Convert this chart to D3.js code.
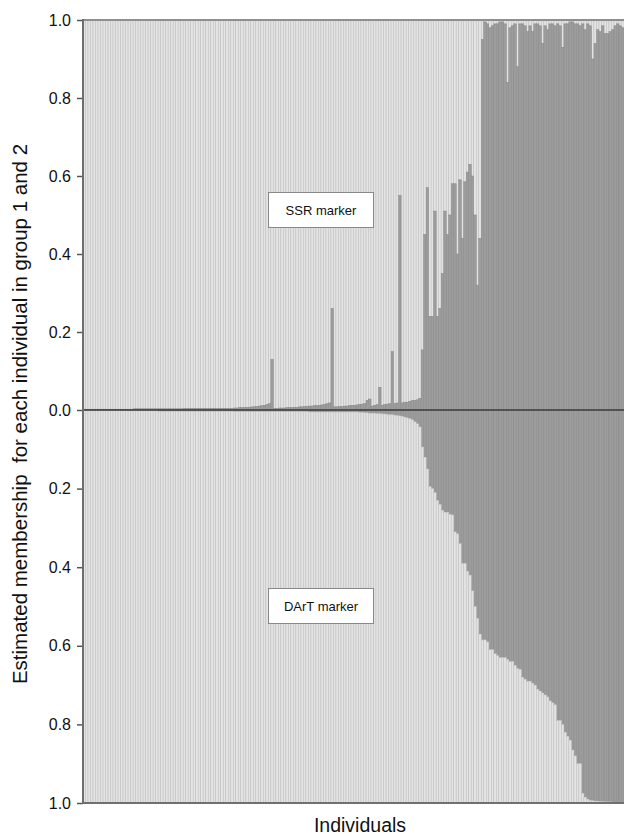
<!DOCTYPE html>
<html>
<head>
<meta charset="utf-8">
<script src="https://cdn.jsdelivr.net/npm/d3@7"></script>
<style>
  body { margin: 0; background: #fff; }
  text { font-family: "Liberation Sans", Arial, sans-serif; }
</style>
</head>
<body>
<div id="chart"></div>
<script>

// membership in group 2 for each individual (SSR marker, drawn upward)
var ssrValues = [
	0.002,0.002,0.002,0.002,0.002,0.002,0.002,0.002,0.002,0.002,
	0.002,0.002,0.002,0.002,0.002,0.002,0.002,0.002,0.002,0.002,
	0.003,0.003,0.003,0.003,0.003,0.003,0.003,0.003,0.003,0.003,
	0.003,0.003,0.003,0.003,0.003,0.003,0.003,0.003,0.003,0.003,
	0.004,0.004,0.004,0.004,0.004,0.004,0.004,0.004,0.004,0.004,
	0.004,0.004,0.004,0.004,0.004,0.004,0.004,0.004,0.004,0.004,
	0.005,0.005,0.006,0.006,0.006,0.007,0.007,0.008,0.008,0.009,
	0.010,0.011,0.012,0.014,0.016,0.130,0.004,0.004,0.005,0.005,
	0.005,0.006,0.006,0.006,0.007,0.007,0.008,0.008,0.009,0.009,
	0.010,0.010,0.011,0.011,0.012,0.013,0.014,0.016,0.018,0.260,
	0.008,0.008,0.009,0.009,0.010,0.010,0.011,0.012,0.012,0.013,
	0.014,0.015,0.016,0.025,0.028,0.010,0.012,0.014,0.058,0.012,
	0.014,0.015,0.016,0.150,0.016,0.018,0.550,0.018,0.020,0.020,
	0.022,0.024,0.025,0.026,0.030,0.154,0.450,0.570,0.240,0.240,
	0.510,0.240,0.260,0.350,0.510,0.450,0.500,0.580,0.580,0.400,
	0.590,0.440,0.585,0.610,0.630,0.600,0.500,0.320,0.440,0.950,
	0.995,0.990,0.980,0.985,0.990,0.990,0.995,0.995,0.990,0.840,
	0.980,0.985,0.990,0.880,0.990,0.990,0.985,0.970,0.985,0.970,
	0.990,0.990,0.985,0.940,0.985,0.975,0.990,0.990,0.985,0.990,
	0.985,0.930,0.990,0.990,0.995,0.995,0.990,0.990,0.985,0.990,
	0.975,0.990,0.985,0.900,0.940,0.975,0.970,0.985,0.965,0.965,
	0.970,0.975,0.985,0.990,0.985,0.980
];

// membership in group 2 for each individual (DArT marker, drawn downward)
var dartValues = [
	0.002,0.002,0.002,0.002,0.002,0.002,0.002,0.002,0.002,0.002,
	0.002,0.002,0.002,0.002,0.002,0.002,0.002,0.002,0.002,0.002,
	0.002,0.002,0.002,0.002,0.002,0.002,0.002,0.002,0.002,0.002,
	0.003,0.003,0.003,0.003,0.003,0.003,0.003,0.003,0.003,0.003,
	0.003,0.003,0.003,0.003,0.003,0.003,0.003,0.003,0.003,0.003,
	0.003,0.003,0.003,0.003,0.003,0.003,0.003,0.003,0.003,0.003,
	0.004,0.004,0.004,0.004,0.004,0.004,0.004,0.004,0.004,0.004,
	0.004,0.004,0.004,0.004,0.004,0.004,0.004,0.004,0.004,0.004,
	0.004,0.004,0.004,0.004,0.004,0.004,0.004,0.004,0.004,0.004,
	0.005,0.005,0.005,0.005,0.005,0.005,0.005,0.005,0.005,0.005,
	0.005,0.005,0.005,0.005,0.005,0.005,0.005,0.005,0.005,0.005,
	0.006,0.006,0.007,0.007,0.008,0.008,0.008,0.009,0.009,0.010,
	0.010,0.011,0.012,0.012,0.013,0.014,0.015,0.016,0.018,0.020,
	0.022,0.025,0.030,0.035,0.043,0.094,0.120,0.150,0.195,0.200,
	0.210,0.230,0.240,0.255,0.260,0.260,0.265,0.267,0.310,0.315,
	0.340,0.390,0.390,0.410,0.420,0.460,0.500,0.530,0.570,0.585,
	0.585,0.590,0.610,0.610,0.620,0.625,0.630,0.630,0.630,0.635,
	0.640,0.640,0.650,0.657,0.660,0.680,0.685,0.690,0.690,0.695,
	0.700,0.710,0.715,0.720,0.725,0.730,0.740,0.745,0.750,0.790,
	0.790,0.800,0.820,0.830,0.840,0.865,0.880,0.900,0.900,0.975,
	0.985,0.990,0.993,0.994,0.995,0.995,0.996,0.996,0.997,0.997,
	0.997,0.998,0.998,0.998,0.998,0.998
];

var individuals = ssrValues.map(function(d, i) { return i; });
var tickValues = [0, 0.2, 0.4, 0.6, 0.8, 1.0];

var chartWidth = 624, chartHeight = 837;
var plotLeft = 83, plotRight = 624, plotTop = 20, plotMid = 410, plotBottom = 803;

var lightFill = "#e3e3e3", lightLine = "#bcbcbc";
var darkFill = "#9d9d9d", darkLine = "#878787";

var svg = d3.select("#chart")
			.append("svg")
			.attr("width", chartWidth)
			.attr("height", chartHeight);

var x = d3.scaleBand()
			.domain(individuals)
			.range([plotLeft, plotRight])
			.padding(0);

var yTop = d3.scaleLinear().domain([0, 1]).range([plotMid, plotTop]);
var yBot = d3.scaleLinear().domain([0, 1]).range([plotMid, plotBottom]);

// upper panel: SSR
var upper = svg.append("g").attr("class", "ssr");

upper.selectAll("rect.g1")
	.data(ssrValues)
	.enter().append("rect")
	.attr("class", "g1")
	.attr("x", function(d, i) { return x(i); })
	.attr("width", x.bandwidth())
	.attr("y", yTop(1))
	.attr("height", function(d) { return yTop(d) - yTop(1); })
	.style("fill", lightFill)
	.style("stroke", lightLine)
	.style("stroke-width", 0.5);

upper.selectAll("rect.g2")
	.data(ssrValues)
	.enter().append("rect")
	.attr("class", "g2")
	.attr("x", function(d, i) { return x(i); })
	.attr("width", x.bandwidth())
	.attr("y", function(d) { return yTop(d); })
	.attr("height", function(d) { return yTop(0) - yTop(d); })
	.style("fill", darkFill)
	.style("stroke", darkLine)
	.style("stroke-width", 0.5);

// lower panel: DArT
var lower = svg.append("g").attr("class", "dart");

lower.selectAll("rect.g2")
	.data(dartValues)
	.enter().append("rect")
	.attr("class", "g2")
	.attr("x", function(d, i) { return x(i); })
	.attr("width", x.bandwidth())
	.attr("y", yBot(0))
	.attr("height", function(d) { return yBot(d) - yBot(0); })
	.style("fill", darkFill)
	.style("stroke", darkLine)
	.style("stroke-width", 0.5);

lower.selectAll("rect.g1")
	.data(dartValues)
	.enter().append("rect")
	.attr("class", "g1")
	.attr("x", function(d, i) { return x(i); })
	.attr("width", x.bandwidth())
	.attr("y", function(d) { return yBot(d); })
	.attr("height", function(d) { return yBot(1) - yBot(d); })
	.style("fill", lightFill)
	.style("stroke", lightLine)
	.style("stroke-width", 0.5);

// frame lines
svg.append("line")
	.attr("x1", plotLeft).attr("x2", plotRight)
	.attr("y1", plotTop).attr("y2", plotTop)
	.style("stroke", "#8f8f8f").style("stroke-width", 2);

svg.append("line")
	.attr("x1", plotLeft).attr("x2", plotRight)
	.attr("y1", plotBottom).attr("y2", plotBottom)
	.style("stroke", "#707070").style("stroke-width", 2);

svg.append("line")
	.attr("x1", plotLeft).attr("x2", plotRight)
	.attr("y1", plotMid).attr("y2", plotMid)
	.style("stroke", "#3c3c3c").style("stroke-width", 1.6);

// axes
var axisTop = d3.axisLeft(yTop)
				.tickValues(tickValues)
				.tickSize(6)
				.tickPadding(6)
				.tickFormat(d3.format(".1f"));

var axisBot = d3.axisLeft(yBot)
				.tickValues(tickValues.slice(1))
				.tickSize(6)
				.tickPadding(6)
				.tickFormat(d3.format(".1f"));

[axisTop, axisBot].forEach(function(ax) {
	var g = svg.append("g")
			.attr("transform", "translate(" + plotLeft + ",0)")
			.call(ax);
	g.select(".domain").remove();
	g.selectAll(".tick line").style("stroke", "#555").style("stroke-width", 1.5);
	g.selectAll(".tick text")
		.style("font-size", "16px")
		.style("fill", "#111")
		.style("font-family", "'Liberation Sans', Arial, sans-serif");
});

svg.append("line")
	.attr("x1", plotLeft).attr("x2", plotLeft)
	.attr("y1", plotTop - 1).attr("y2", plotBottom + 1)
	.style("stroke", "#6e6e6e").style("stroke-width", 2);

// labels in boxes
function labelBox(cy, label) {
	svg.append("rect")
		.attr("x", 268.5).attr("y", cy - 17.5)
		.attr("width", 105).attr("height", 35)
		.style("fill", "#fff")
		.style("stroke", "#888")
		.style("stroke-width", 1);
	svg.append("text")
		.attr("x", 321)
		.attr("y", cy)
		.attr("dy", ".35em")
		.attr("text-anchor", "middle")
		.text(label)
		.style("font-size", "13px")
		.style("fill", "#111");
}

labelBox(210, "SSR marker");
labelBox(606, "DArT marker");

// axis titles
svg.append("text")
	.attr("transform", "translate(20," + (plotMid + 4) + ") rotate(-90)")
	.attr("dy", ".35em")
	.attr("text-anchor", "middle")
	.text("Estimated membership\u00A0 for each individual in group 1 and 2")
	.style("font-size", "20.5px")
	.style("fill", "#111");

svg.append("text")
	.attr("x", 360)
	.attr("y", 825)
	.attr("dy", ".35em")
	.attr("text-anchor", "middle")
	.text("Individuals")
	.style("font-size", "19.5px")
	.style("fill", "#111");

</script>
</body>
</html>
